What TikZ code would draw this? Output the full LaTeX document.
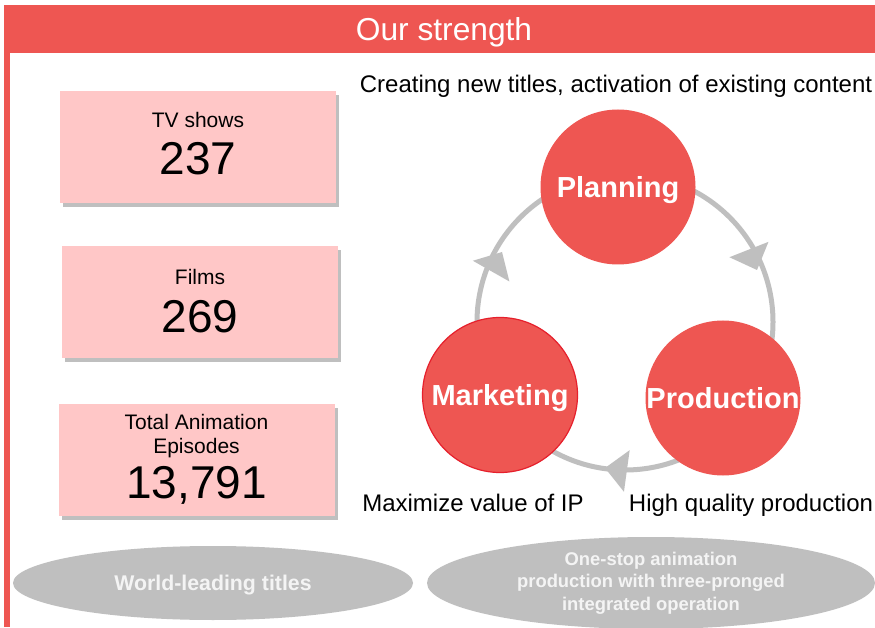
\documentclass[tikz,border=0pt]{standalone}
\usepackage{fontspec}
\setmainfont{Liberation Sans}
\usetikzlibrary{shapes.geometric,shadows}
\definecolor{strengthred}{RGB}{238,86,82}
\definecolor{edgered}{RGB}{230,32,44}
\definecolor{boxpink}{RGB}{255,199,199}
\definecolor{ringgray}{RGB}{191,191,191}
\definecolor{ovaltext}{RGB}{244,244,244}

\begin{document}
\begin{tikzpicture}[x=1pt,y=1pt,
		countbox/.style={fill=boxpink,minimum width=276pt,minimum height=112pt,inner sep=0pt,
			drop shadow={shadow xshift=3pt,shadow yshift=-4pt,fill=black!45,opacity=0.55}},
		countname/.style={anchor=base,inner sep=0pt,font=\fontsize{21}{24}\selectfont},
		countnum/.style={anchor=base,inner sep=0pt,font=\fontsize{46}{50}\selectfont},
		stage/.style={circle,fill=strengthred,minimum size=155pt,inner sep=0pt,text=white,
			text height=21pt,text depth=0pt,font=\bfseries\fontsize{29}{34}\selectfont},
		remark/.style={anchor=base,inner sep=0pt,font=\fontsize{24}{27}\selectfont},
		oval/.style={ellipse,fill=ringgray,inner sep=0pt,text=ovaltext,align=center},
		ring/.style={draw=ringgray,line width=5pt},
		cycletip/.style={fill=ringgray}]
		\useasboundingbox (0,0) rectangle (875,627);
		\fill[white] (0,0) rectangle (875,627);

		\fill[strengthred] (4,574) rectangle (875,622);
		\fill[strengthred] (4,0) rectangle (10,574);
		\node[anchor=base,inner sep=0pt,text=white,font=\fontsize{31.7}{36}\selectfont] (title) at (444,586) {Our strength};

		\node[countbox] (tv) at (198,480) {};
		\node[countname] (tvname) at ([yshift=19pt]tv.center) {TV shows};
		\node[countnum] (tvnum) at ([yshift=-28pt]tv.center) {237};
		\node[countbox] (films) at (200,324.5) {};
		\node[countname] (filmsname) at ([yshift=17.5pt]films.center) {Films};
		\node[countnum] (filmsnum) at ([yshift=-30.5pt]films.center) {269};
		\node[countbox] (episodes) at (196.5,167) {};
		\node[countname] (episodesname) at ([yshift=30pt]episodes.center) {Total Animation};
		\node[countname] (episodesname2) at ([yshift=7pt]episodes.center) {Episodes};
		\node[countnum] (episodesnum) at ([yshift=-38pt]episodes.center) {13,791};

		\draw[ring] (625,305) circle [radius=148pt];
		% arrowheads, clockwise
		\fill[cycletip,shift={(757,357)},rotate=111.5] (0,0) -- (22,21) -- (22,-21) -- cycle;
		\fill[cycletip,shift={(605,159)},rotate=352.2] (0,0) -- (22,21) -- (22,-21) -- cycle;
		\fill[cycletip,shift={(502,375)},rotate=240.4] (0,0) -- (22,21) -- (22,-21) -- cycle;
		\node[stage] (planning) at (618,440) {Planning};
		\node[stage,draw=edgered,line width=1.2pt] (marketing) at (500,232) {Marketing};
		\node[stage] (production) at (723,229) {Production};

		\node[remark] (create) at (616,534) {Creating new titles, activation of existing content};
		\node[remark] (maximize) at (473,115.5) {Maximize value of IP};
		\node[remark] (quality) at (751,115.5) {High quality production};

		\node[oval,minimum width=400pt,minimum height=74pt,text height=15pt,text depth=0pt,
			font=\bfseries\fontsize{21.3}{24}\selectfont] (leading) at (213,44) {World-leading titles};
		\node[oval,minimum width=448pt,minimum height=92pt,
			font=\bfseries\fontsize{18.4}{22.5}\selectfont] (onestop) at (651,44) {One-stop animation\\production with three-pronged\\integrated operation};
\end{tikzpicture}
\end{document}
